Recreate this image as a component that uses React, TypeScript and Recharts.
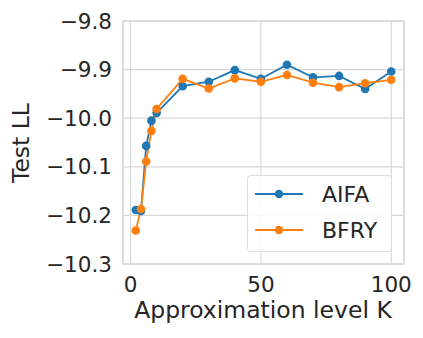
import { CartesianGrid, Label, Line, LineChart, ReferenceArea, XAxis, YAxis } from "recharts";

const levels = [2, 4, 6, 8, 10, 20, 30, 40, 50, 60, 70, 80, 90, 100];
const aifa = [-10.189, -10.191, -10.057, -10.005, -9.989, -9.934, -9.925, -9.901, -9.919, -9.89, -9.916, -9.913, -9.94, -9.904];
const bfry = [-10.231, -10.187, -10.089, -10.026, -9.981, -9.919, -9.939, -9.918, -9.925, -9.911, -9.927, -9.936, -9.928, -9.921];
const xTicks = [0, 50, 100];
const yTicks = [-10.3, -10.2, -10.1, -10.0, -9.9, -9.8];
const seriesNames = ["AIFA", "BFRY"];
const seriesColors = ["#1f77b4", "#ff7f0e"];

const data = levels.map((k, i) => ({ k, AIFA: aifa[i], BFRY: bfry[i] }));

const font = "'DejaVu Sans', sans-serif";
const ink = "#262626";
const gridColor = "#d8d8d8";

const fmt = (v: number) => v.toFixed(1).replace("-", "\u2212");

// legend drawn over the chart so it doesn't shrink the plot area
function LegendBox() {
  return (
    <div
      style={{
        position: "absolute",
        left: 247,
        top: 175,
        width: 145,
        height: 77,
        boxSizing: "border-box",
        border: "1px solid #dedede",
        borderRadius: 4,
        background: "rgba(255,255,255,0.85)",
        fontFamily: font,
        fontSize: 22,
        color: ink,
      }}
    >
      {seriesNames.map((name, i) => (
        <div key={name} style={{ position: "absolute", left: 7, top: 5 + i * 36, height: 26, display: "flex", alignItems: "center" }}>
          <svg width={48} height={14} style={{ marginRight: 19 }}>
            <line x1={0} y1={7} x2={48} y2={7} stroke={seriesColors[i]} strokeWidth={1.8} />
            <circle cx={24} cy={7} r={4.2} fill={seriesColors[i]} />
          </svg>
          <span>{name}</span>
        </div>
      ))}
    </div>
  );
}

export default function App() {
  return (
    <div style={{ position: "absolute", left: 0, top: 0, width: 423, height: 338, background: "#fff" }}>
      <LineChart width={423} height={338} data={data} margin={{ top: 21, right: 19, left: 0, bottom: 0 }}>
        <CartesianGrid stroke={gridColor} strokeWidth={1.2} />
        <ReferenceArea x1={-2.9} x2={104.9} y1={-10.3} y2={-9.8} fill="none" stroke={gridColor} strokeWidth={1.4} />
        <XAxis
          dataKey="k"
          type="number"
          domain={[-2.9, 104.9]}
          ticks={xTicks}
          allowDataOverflow
          axisLine={false}
          tickLine={false}
          tickSize={0}
          tickMargin={13}
          height={74}
          tick={{ fill: ink, fontSize: 21.5, fontFamily: font }}
        >
          <Label
            content={() => (
              <text x={263} y={318} textAnchor="middle" fill={ink} fontSize={23.5} fontFamily={font}>
                Approximation level K
              </text>
            )}
          />
        </XAxis>
        <YAxis
          type="number"
          domain={[-10.3, -9.8]}
          ticks={yTicks}
          allowDataOverflow
          axisLine={false}
          tickLine={false}
          tickSize={0}
          tickMargin={11}
          width={123}
          tickFormatter={fmt}
          tick={{ fill: ink, fontSize: 21.5, fontFamily: font }}
        >
          <Label
            content={() => (
              <text
                x={21}
                y={143}
                transform="rotate(-90 21 143)"
                textAnchor="middle"
                dominantBaseline="central"
                fill={ink}
                fontSize={23.5}
                fontFamily={font}
              >
                Test LL
              </text>
            )}
          />
        </YAxis>
        {seriesNames.map((name, i) => (
          <Line
            key={name}
            dataKey={name}
            stroke={seriesColors[i]}
            strokeWidth={1.8}
            dot={{ r: 4.3, fill: seriesColors[i], stroke: "none" }}
            activeDot={false}
            isAnimationActive={false}
          />
        ))}
      </LineChart>
      <LegendBox />
    </div>
  );
}
